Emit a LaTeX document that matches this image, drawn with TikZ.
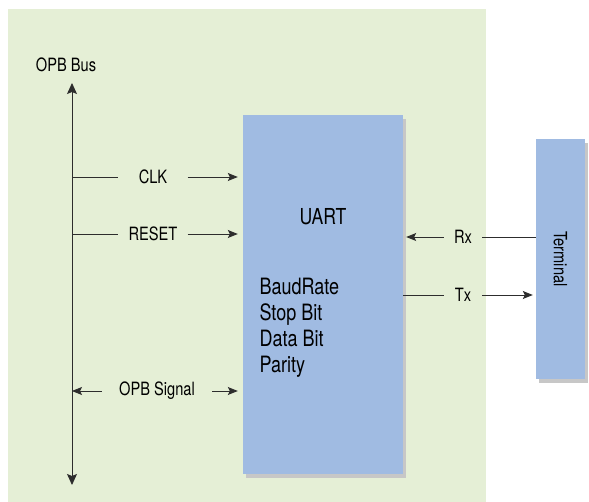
\documentclass[tikz,border=0pt]{standalone}
\usepackage{fontspec}
\setmainfont{TeX Gyre Heros}[FakeStretch=0.8]
\usetikzlibrary{positioning, arrows.meta, shadows}
\definecolor{panelgreen}{RGB}{229,239,214}
\definecolor{boxblue}{RGB}{160,187,226}
\definecolor{wiregray}{RGB}{45,45,45}

\begin{document}
\begin{tikzpicture}[x=1pt, y=-1pt,
    block/.style={fill=boxblue, draw=none, inner sep=0pt,
      drop shadow={shadow xshift=3pt, shadow yshift=-4pt, fill=black!22, opacity=1}},
    sig/.style={font=\fontsize{18.3}{20}\selectfont, inner sep=0pt, minimum height=14pt},
    wire/.style={draw=wiregray, line width=0.9pt},
    arr/.style={wire, -{Stealth[length=10pt, width=8pt, inset=2pt]}}
  ]
  \useasboundingbox (0,0) rectangle (589,502);
  \fill[panelgreen] (8,9) rectangle (486,502);

  % blocks
  \node[block, minimum width=160pt, minimum height=359pt] (uart) at (323,294.5) {};
  \node[font=\fontsize{22}{24}\selectfont] (uartlbl) at (323,217) {UART};
  \node[font=\fontsize{22.5}{26}\selectfont, align=left, anchor=west] (params) at (256,327.5)
    {BaudRate\\Stop Bit\\Data Bit\\Parity};
  \node[block, minimum width=49pt, minimum height=240pt] (term) at (560.5,259)
    {\rotatebox{-90}{\fontsize{18.3}{20}\selectfont Terminal}};

  % OPB bus
  \coordinate (bustop) at (72,83);
  \coordinate (busbot) at (72,485);
  \draw[wire, {Stealth[length=11pt, width=10pt, inset=2pt]}-{Stealth[length=11pt, width=10pt, inset=2pt]}]
    (busbot) -- (bustop);
  \node[sig] (buslbl) at (66,65) {OPB Bus};

  % signals
  \node[sig, minimum width=69pt] (clk) at (153,177) {CLK};
  \node[sig, minimum width=69pt] (rst) at (153,234) {RESET};
  \node[sig, minimum width=110pt] (opb) at (157,391) {OPB Signal};
  \node[sig, minimum width=38pt] (rx) at (463,237) {Rx};
  \node[sig, minimum width=38pt] (tx) at (463,295) {Tx};

  \draw[wire] (bustop |- clk) -- (clk.west);
  \draw[arr, shorten >=5pt] (clk.east) -- (uart.west |- clk);
  \draw[wire] (bustop |- rst) -- (rst.west);
  \draw[arr, shorten >=5pt] (rst.east) -- (uart.west |- rst);
  \draw[arr] (opb.west) -- (bustop |- opb);
  \draw[arr, shorten >=5pt] (opb.east) -- (uart.west |- opb);

  \draw[wire] (term.west |- rx) -- (rx.east);
  \draw[arr, shorten >=3pt] (rx.west) -- (uart.east |- rx);
  \draw[wire] (uart.east |- tx) -- (tx.west);
  \draw[arr, shorten >=3pt] (tx.east) -- (term.west |- tx);
\end{tikzpicture}
\end{document}
